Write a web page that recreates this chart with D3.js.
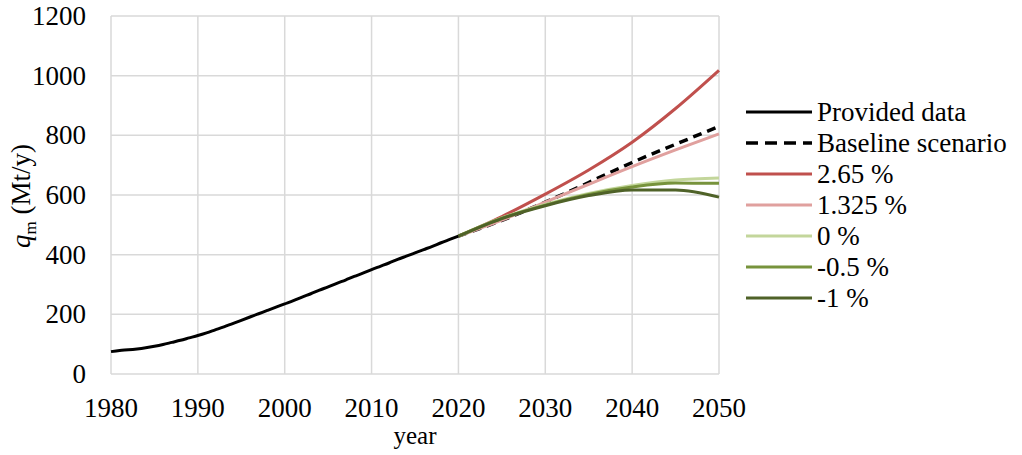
<!DOCTYPE html>
<html>
<head>
<meta charset="utf-8">
<script src="https://cdn.jsdelivr.net/npm/d3@7"></script>
<style>
  body { margin: 0; background: #fff; }
  svg { display: block; }
  svg text { font-family: "Times New Roman", "Liberation Serif", "DejaVu Serif", serif; }
</style>
</head>
<body>
<svg id="chart" width="1022" height="455"></svg>
<script>
// provided data, yearly 1980-2020 (Mt/y)
const histYears = d3.range(1980, 2021);
const histValues = [75, 79, 81, 84, 88, 93, 99, 106, 113, 121, 129, 138, 148, 158, 169, 180, 191, 202, 213, 224, 235,
  246, 258, 269, 281, 292, 304, 315, 327, 338, 350, 361, 372, 384, 395, 406, 417, 428, 440, 451, 462];

// scenario years
const scenYears = [2020, 2025, 2030, 2035, 2040, 2045, 2050];
const baseline = [462, 515, 576, 642, 709, 770, 830];
const s265 = [462, 528, 603, 684, 777, 890, 1018];
const s1325 = [462, 516, 576, 636, 695, 751, 805];
const s0 = [462, 523, 568, 605, 632, 650, 657];
const sm05 = [462, 522, 566, 602, 627, 640, 639];
const sm1 = [462, 521, 564, 598, 617, 617, 593];

const xTicks = [1980, 1990, 2000, 2010, 2020, 2030, 2040, 2050];
const yTicks = [0, 200, 400, 600, 800, 1000, 1200];

const series = [
  { name: "Provided data", years: histYears, values: histValues, color: "#000000", dash: null },
  { name: "Baseline scenario", years: scenYears, values: baseline, color: "#000000", dash: "9,6" },
  { name: "2.65 %", years: scenYears, values: s265, color: "#c0504d", dash: null },
  { name: "1.325 %", years: scenYears, values: s1325, color: "#e0a09e", dash: null },
  { name: "0 %", years: scenYears, values: s0, color: "#c3d69b", dash: null },
  { name: "-0.5 %", years: scenYears, values: sm05, color: "#77933c", dash: null },
  { name: "-1 %", years: scenYears, values: sm1, color: "#4f6228", dash: null }
];

const svg = d3.select("#chart");
const plotLeft = 111, plotRight = 719, plotTop = 16, plotBottom = 374;

const x = d3.scaleLinear().domain([1980, 2050]).range([plotLeft, plotRight]);
const y = d3.scaleLinear().domain([0, 1200]).range([plotBottom, plotTop]);

// gridlines
svg.append("g")
  .selectAll("line")
  .data(xTicks)
  .join("line")
  .attr("x1", d => x(d)).attr("x2", d => x(d))
  .attr("y1", plotTop).attr("y2", plotBottom)
  .attr("stroke", "#d9d9d9").attr("stroke-width", 1.5);

svg.append("g")
  .selectAll("line")
  .data(yTicks)
  .join("line")
  .attr("x1", plotLeft).attr("x2", plotRight)
  .attr("y1", d => y(d)).attr("y2", d => y(d))
  .attr("stroke", "#d9d9d9").attr("stroke-width", 1.5);

// tick labels
svg.append("g")
  .selectAll("text")
  .data(yTicks)
  .join("text")
  .attr("x", 86).attr("y", d => y(d) + 9)
  .attr("text-anchor", "end")
  .attr("font-size", 27)
  .text(d => d);

svg.append("g")
  .selectAll("text")
  .data(xTicks)
  .join("text")
  .attr("x", d => x(d)).attr("y", 417)
  .attr("text-anchor", "middle")
  .attr("font-size", 27)
  .text(d => d);

// axis titles
svg.append("text")
  .attr("x", (plotLeft + plotRight) / 2).attr("y", 444)
  .attr("text-anchor", "middle")
  .attr("font-size", 25)
  .text("year");

const yl = svg.append("text")
  .attr("transform", "translate(30,196) rotate(-90)")
  .attr("text-anchor", "middle")
  .attr("font-size", 27);
yl.append("tspan").attr("font-style", "italic").text("q");
yl.append("tspan").attr("font-size", 17).attr("dy", 6).text("m");
yl.append("tspan").attr("dy", -6).text(" (Mt/y)");

// lines
const line = d3.line()
  .x(d => x(d[0]))
  .y(d => y(d[1]))
  .curve(d3.curveMonotoneX);

// baseline underneath so it only shows where it pulls away from the pink line
const order = [1, 2, 3, 4, 5, 6, 0];
order.forEach(i => {
  const s = series[i];
  svg.append("path")
    .datum(s.years.map((yr, k) => [yr, s.values[k]]))
    .attr("d", line)
    .attr("fill", "none")
    .attr("stroke", s.color)
    .attr("stroke-width", i === 1 ? 3.5 : 3)
    .attr("stroke-dasharray", s.dash);
});

// legend
const legend = svg.append("g");
series.forEach((s, i) => {
  const ly = 112 + i * 31;
  legend.append("line")
    .attr("x1", 746).attr("x2", 812)
    .attr("y1", ly).attr("y2", ly)
    .attr("stroke", s.color)
    .attr("stroke-width", s.dash ? 3.5 : 3)
    .attr("stroke-dasharray", s.dash ? "12,7" : null);
  legend.append("text")
    .attr("x", 817).attr("y", ly + 9)
    .attr("font-size", 27)
    .text(s.name);
});
</script>
</body>
</html>
